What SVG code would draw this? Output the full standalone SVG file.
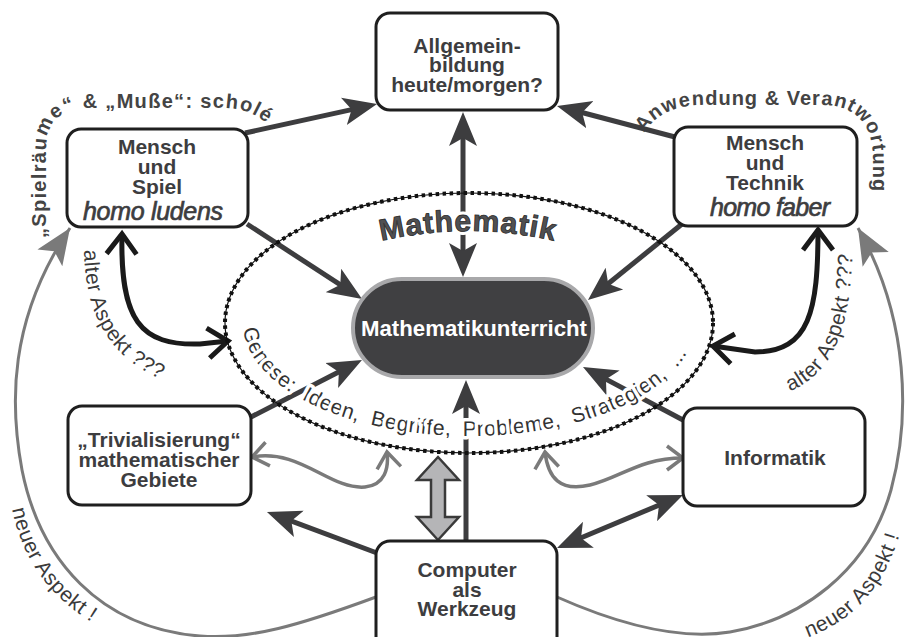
<svg xmlns="http://www.w3.org/2000/svg" width="909" height="637" viewBox="0 0 909 637">
<defs>
<style>
.box{fill:#fff;stroke:#1f1f1f;stroke-width:3}
.lbl{font-family:"Liberation Sans",Arial,sans-serif;font-weight:bold;font-size:21px;fill:#3d3d3f;text-anchor:middle}
.homo{font-family:"Liberation Sans",Arial,sans-serif;font-style:italic;font-size:25px;fill:#3d3d3f;stroke:#3d3d3f;stroke-width:0.7;text-anchor:middle}
.con{fill:none;stroke:#3d3d3f;stroke-width:5}
.gray{fill:none;stroke:#7a7a7a;stroke-width:3}
.wav{fill:none;stroke:#7a7a7a;stroke-width:3.5}
.blk{fill:none;stroke:#1a1a1a;stroke-width:5}
.arc{font-family:"Liberation Sans",Arial,sans-serif;font-weight:bold;font-size:20px;fill:#444}
.asp{font-family:"Liberation Sans",Arial,sans-serif;font-size:21px;fill:#3a3a3a}
.halo{stroke:#fff;stroke-width:7;stroke-linejoin:round;paint-order:stroke fill}
</style>
<marker id="ah" viewBox="-34 -15 36 30" refX="-12" refY="0" markerWidth="36" markerHeight="30" markerUnits="userSpaceOnUse" orient="auto-start-reverse">
<path d="M0,0 L-34,-14 L-26,0 L-34,14 Z" fill="#3d3d3f"/>
</marker>
<marker id="gh" viewBox="-36 -16 38 32" refX="0" refY="0" markerWidth="38" markerHeight="32" markerUnits="userSpaceOnUse" orient="auto">
<path d="M0,0 L-36,-15 L-28,0 L-36,15 Z" fill="#7a7a7a"/>
</marker>
<marker id="gc" viewBox="-22 -16 26 32" refX="0" refY="0" markerWidth="26" markerHeight="32" markerUnits="userSpaceOnUse" orient="auto-start-reverse" overflow="visible">
<path d="M-16,-12 L0,0 L-16,12" fill="none" stroke="#7a7a7a" stroke-width="3.5"/>
</marker>
<marker id="bc" viewBox="-24 -18 28 36" refX="0" refY="0" markerWidth="28" markerHeight="36" markerUnits="userSpaceOnUse" orient="auto-start-reverse" overflow="visible">
<path d="M-20,-15 L0,0 L-20,15" fill="none" stroke="#1a1a1a" stroke-width="5"/>
</marker>
<path id="pSpiel" d="M 46,242 L 46,150 Q 46,108 90,108 L 225,108 Q 258,108 284,140"/>
<path id="pAnw" d="M 643,135 Q 660,106 700,105 L 820,105 Q 873,105 873,160 L 873,240"/>
<path id="pAltL" d="M 84,246 C 84,322 115,370 192,390"/>
<path id="pAltR" d="M 788,392 C 838,372 853,320 853,228"/>
<path id="pNeuL" d="M 10,495 C 18,560 55,608 118,636"/>
<path id="pNeuR" d="M 806,638 C 858,620 896,578 908,495"/>
<path id="pMath" d="M 355,248 Q 468,214 581,248"/>
<path id="pGen" d="M 243,323 A 226 113 0 0 0 695,323"/>
</defs>

<g id="outer-curves">
<path class="gray" d="M 376,597 C 300,625 250,640 200,636 C 100,628 40,560 22,470 C 10,405 8,320 70,228" marker-end="url(#gh)"/>
<path class="gray" d="M 557,597 C 620,625 680,640 730,632 C 800,620 868,572 891,490 C 910,420 910,320 858,228" marker-end="url(#gh)"/>
</g>

<g id="arc-labels">
<text class="arc" letter-spacing="1.3"><textPath href="#pSpiel" startOffset="4">„Spielräume“ &amp; „Muße“: scholé</textPath></text>
<text class="arc" letter-spacing="1"><textPath href="#pAnw" startOffset="2">Anwendung &amp; Verantwortung</textPath></text>
<text class="asp" letter-spacing="0.6"><textPath href="#pAltL" startOffset="4">alter Aspekt ???</textPath></text>
<text class="asp" letter-spacing="0.6"><textPath href="#pAltR" startOffset="2">alter Aspekt ???</textPath></text>
<text class="asp" letter-spacing="0.6"><textPath href="#pNeuL" startOffset="14">neuer Aspekt !</textPath></text>
<text class="asp" letter-spacing="0.6"><textPath href="#pNeuR" startOffset="2">neuer Aspekt !</textPath></text>
</g>

<g id="connectors">
<line class="con" x1="245" y1="133" x2="365.3" y2="106.6" marker-end="url(#ah)"/>
<line class="con" x1="675" y1="137" x2="568.6" y2="109" marker-end="url(#ah)"/>
<line class="con" x1="247" y1="224" x2="352" y2="292.4" marker-end="url(#ah)"/>
<line class="con" x1="682" y1="224" x2="597.3" y2="292.5" marker-end="url(#ah)"/>
<line class="con" x1="251" y1="417" x2="351.3" y2="365.5" marker-end="url(#ah)"/>
<line class="con" x1="683" y1="420" x2="593.6" y2="372.6" marker-end="url(#ah)"/>
<line class="con" x1="466" y1="541" x2="466" y2="392" marker-end="url(#ah)"/>
<line class="con" x1="463" y1="124" x2="463" y2="265" marker-start="url(#ah)" marker-end="url(#ah)"/>
<line class="con" x1="377" y1="553" x2="278.2" y2="516.2" marker-end="url(#ah)"/>
<line class="con" x1="568.1" y1="543.3" x2="671.9" y2="499.7" marker-start="url(#ah)" marker-end="url(#ah)"/>
<path class="wav" d="M 252,457 C 300,448 330,490 365,487 C 385,485 389,468 387,452" marker-start="url(#gc)" marker-end="url(#gc)"/>
<path class="wav" d="M 545,452 C 548,478 560,492 590,485 C 620,478 640,458 683,458" marker-start="url(#gc)" marker-end="url(#gc)"/>
<path class="blk" d="M 122,234 C 120,320 140,346 200,344 L 228,341" marker-start="url(#bc)" marker-end="url(#bc)"/>
<path class="blk" d="M 818,230 C 818,310 810,352 755,352 L 713,346" marker-start="url(#bc)" marker-end="url(#bc)"/>
<polygon points="438,457 459,480 445,480 445,517 459,517 438,540 417,517 431,517 431,480 417,480" fill="#b5b5b7" stroke="#3a3a3a" stroke-width="2.5"/>
</g>

<g id="ellipse-labels">
<text font-family="'Liberation Sans',Arial,sans-serif" font-weight="bold" font-size="30" letter-spacing="1" fill="#505052" class="halo" text-anchor="middle"><textPath href="#pMath" startOffset="50%">Mathematik</textPath></text>
<text font-family="'Liberation Sans',Arial,sans-serif" font-weight="bold" font-size="30" letter-spacing="1" fill="#505052" stroke="#333" stroke-width="0.8" text-anchor="middle"><textPath href="#pMath" startOffset="50%">Mathematik</textPath></text>
<text font-family="'Liberation Sans',Arial,sans-serif" font-size="21" letter-spacing="0.4" word-spacing="6" fill="#333" class="halo"><textPath href="#pGen" startOffset="6">Genese: Ideen, Begriffe, Probleme, Strategien, ...</textPath></text>
</g>

<g id="ellipse">
<ellipse cx="469" cy="323" rx="244" ry="130" fill="none" stroke="#111" stroke-width="1.2"/>
<ellipse cx="469" cy="323" rx="244" ry="130" fill="none" stroke="#111" stroke-width="4" stroke-dasharray="3.5 3.5"/>
</g>

<g id="node-allgemeinbildung">
<rect class="box" x="376" y="13" width="182" height="97" rx="14"/>
<text class="lbl" x="467" y="53">Allgemein-</text>
<text class="lbl" x="467" y="72">bildung</text>
<text class="lbl" x="467" y="92">heute/morgen?</text>
</g>

<g id="node-spiel">
<rect class="box" x="67" y="129" width="181" height="98" rx="14"/>
<text class="lbl" x="157" y="154">Mensch</text>
<text class="lbl" x="157" y="174">und</text>
<text class="lbl" x="157" y="194">Spiel</text>
<text class="homo" x="153" y="220" textLength="140">homo ludens</text>
</g>

<g id="node-technik">
<rect class="box" x="674" y="127" width="183" height="99" rx="14"/>
<text class="lbl" x="765" y="150">Mensch</text>
<text class="lbl" x="765" y="170">und</text>
<text class="lbl" x="765" y="190">Technik</text>
<text class="homo" x="770" y="216" textLength="120">homo faber</text>
</g>

<g id="node-trivialisierung">
<rect class="box" x="68" y="406" width="183" height="99" rx="14"/>
<text class="lbl" x="159" y="447">„Trivialisierung“</text>
<text class="lbl" x="159" y="467">mathematischer</text>
<text class="lbl" x="159" y="487">Gebiete</text>
</g>

<g id="node-informatik">
<rect class="box" x="683" y="408" width="182" height="98" rx="14"/>
<text class="lbl" x="775" y="465">Informatik</text>
</g>

<g id="node-computer">
<rect class="box" x="376" y="541" width="181" height="110" rx="14"/>
<text class="lbl" x="467" y="577">Computer</text>
<text class="lbl" x="467" y="597">als</text>
<text class="lbl" x="467" y="616">Werkzeug</text>
</g>

<g id="node-mathematikunterricht">
<rect x="353" y="279" width="240" height="98" rx="49" fill="#404042" stroke="#a8a8aa" stroke-width="4"/>
<text x="474" y="336" font-family="'Liberation Sans',Arial,sans-serif" font-weight="bold" font-size="22" fill="#fff" text-anchor="middle" textLength="226" lengthAdjust="spacingAndGlyphs">Mathematikunterricht</text>
</g>
</svg>
